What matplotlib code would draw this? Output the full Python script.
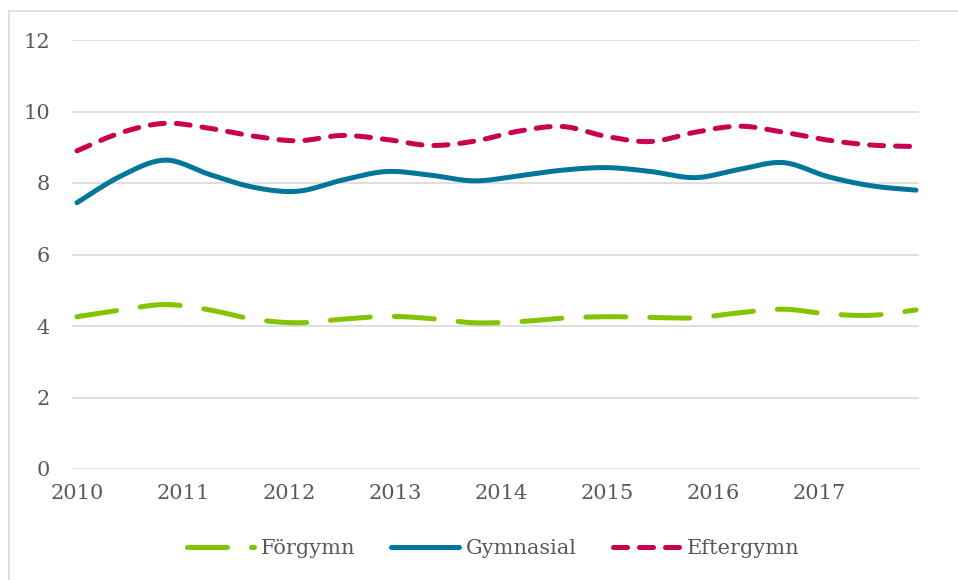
import numpy as np
import matplotlib
matplotlib.use("Agg")
import matplotlib.pyplot as plt
from matplotlib.lines import Line2D

# ---- data (months since Jan 2010) ----
months = [0, 5, 10, 15, 20, 25, 30, 35, 40, 45, 50, 55, 60, 65, 70, 75, 80, 85, 90, 95]
forgymn = [4.26, 4.45, 4.60, 4.45, 4.19, 4.09, 4.19, 4.27, 4.21, 4.09,
           4.12, 4.22, 4.26, 4.24, 4.23, 4.37, 4.47, 4.34, 4.30, 4.45]
gymnasial = [7.45, 8.20, 8.64, 8.24, 7.88, 7.77, 8.08, 8.32, 8.22, 8.06,
             8.20, 8.36, 8.43, 8.32, 8.15, 8.38, 8.57, 8.18, 7.92, 7.80]
eftergymn = [8.90, 9.41, 9.67, 9.53, 9.31, 9.18, 9.33, 9.22, 9.05, 9.17,
             9.45, 9.58, 9.30, 9.16, 9.42, 9.59, 9.42, 9.20, 9.06, 9.02]
series_names = ["Förgymn", "Gymnasial", "Eftergymn"]
year_labels = ["2010", "2011", "2012", "2013", "2014", "2015", "2016", "2017"]
y_ticks = [0, 2, 4, 6, 8, 10, 12]

colors = ["#84C300", "#00769A", "#C8004E"]
lw = 3.6
dash_styles = [(0, (8.0, 4.8)), "-", (0, (2.8, 2.4))]


def smooth(x, y, n=20):
    """Excel-like smoothed line: cubic Bezier segments through the points."""
    x = np.asarray(x, float)
    y = np.asarray(y, float)
    P = np.column_stack([x, y])
    Pext = np.vstack([P[0], P, P[-1]])
    out = [P[:1]]
    t = np.linspace(0, 1, n)[1:, None]
    for i in range(len(P) - 1):
        p0, p3 = Pext[i + 1], Pext[i + 2]
        c1 = p0 + (Pext[i + 2] - Pext[i]) / 6.0
        c2 = p3 - (Pext[i + 3] - Pext[i + 1]) / 6.0
        seg = ((1 - t) ** 3) * p0 + 3 * ((1 - t) ** 2) * t * c1 + 3 * (1 - t) * t ** 2 * c2 + t ** 3 * p3
        out.append(seg)
    pts = np.vstack(out)
    return pts[:, 0], pts[:, 1]


plt.rcParams["font.family"] = ["DejaVu Serif"]
text_color = "#595959"
fs = 15

fig = plt.figure(figsize=(9.58, 5.80), dpi=100)
ax = fig.add_axes([72 / 958, 1 - 469 / 580, (919 - 72) / 958, (469 - 40) / 580])

handles = []
for name, vals, c, ls in zip(series_names, [forgymn, gymnasial, eftergymn], colors, dash_styles):
    xs, ys = smooth(months, vals)
    ax.plot(xs, ys, color=c, lw=lw, linestyle=ls, dash_capstyle="round",
            solid_capstyle="round", zorder=3)
    handles.append(Line2D([], [], color=c, lw=lw, linestyle=ls,
                          dash_capstyle="round", solid_capstyle="round", label=name))

px_per_month = (916 - 77) / 95
ax.set_xlim(-(77 - 72) / px_per_month, 95 + (919 - 916) / px_per_month)
ax.set_ylim(0, 12)
ax.set_yticks(y_ticks)
ax.set_yticklabels([str(v) for v in y_ticks])
ax.set_xticks([12 * i for i in range(len(year_labels))])
ax.set_xticklabels(year_labels)

ax.grid(axis="y", color="#D9D9D9", lw=1.2)
ax.set_axisbelow(True)
for s in ax.spines.values():
    s.set_visible(False)
ax.tick_params(axis="both", length=0, labelsize=fs, colors=text_color)
ax.tick_params(axis="y", pad=16)
ax.tick_params(axis="x", pad=11)

leg = fig.legend(handles=handles, loc="center", bbox_to_anchor=(493 / 958, 1 - 549 / 580),
                 ncol=3, frameon=False, fontsize=fs, handlelength=3.25,
                 handletextpad=0.3, columnspacing=1.75)
for t in leg.get_texts():
    t.set_color(text_color)

# outer chart border (light gray)
fig.add_artist(Line2D([8.5 / 958, 8.5 / 958], [0, 1 - 11 / 580], color="#D9D9D9", lw=1.2))
fig.add_artist(Line2D([8.5 / 958, 1], [1 - 11 / 580, 1 - 11 / 580], color="#D9D9D9", lw=1.2))

fig.savefig("out.png", dpi=100, facecolor="white")
